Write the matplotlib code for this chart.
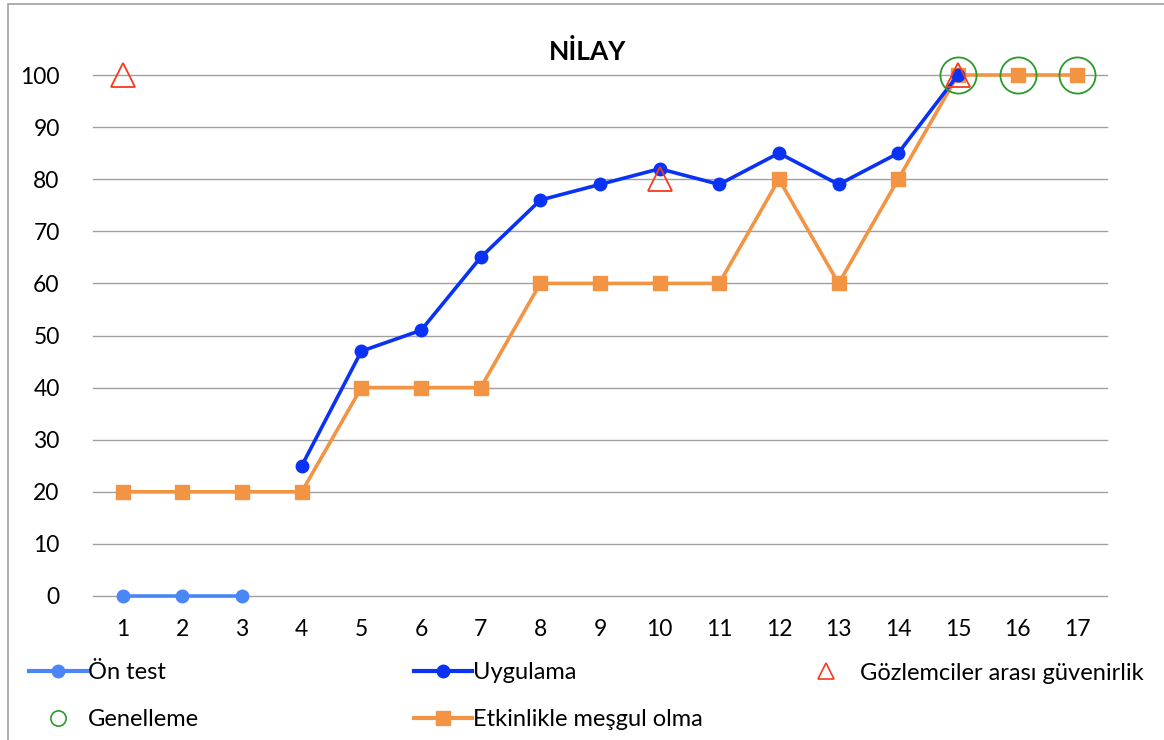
import numpy as np
import matplotlib.pyplot as plt
from matplotlib.lines import Line2D
from matplotlib.patches import Rectangle

plt.rcParams['font.family'] = ['Lato', 'DejaVu Sans']

sessions = list(range(1, 18))

on_test_x = [1, 2, 3]
on_test_y = [0, 0, 0]

uygulama_x = [4, 5, 6, 7, 8, 9, 10, 11, 12, 13, 14, 15]
uygulama_y = [25, 47, 51, 65, 76, 79, 82, 79, 85, 79, 85, 100]

etkinlik_x = sessions
etkinlik_y = [20, 20, 20, 20, 40, 40, 40, 60, 60, 60, 60, 80, 60, 80, 100, 100, 100]

guvenirlik_x = [1, 10, 15]
guvenirlik_y = [100, 80, 100]

genelleme_x = [15, 16, 17]
genelleme_y = [100, 100, 100]

yticks = list(range(0, 101, 10))

c_on = '#4a86f5'
c_uyg = '#0a32f5'
c_etk = '#f39444'
c_red = '#f53a1e'
c_green = '#2a9a2a'

fig = plt.figure(figsize=(11.64, 7.4), dpi=100)
ax = fig.add_axes([93/1164, 144/740, 1014/1164, 521/740])

ax.plot(on_test_x, on_test_y, color=c_on, lw=2.6, marker='o', ms=9, zorder=3, clip_on=False)
ax.plot(uygulama_x, uygulama_y, color=c_uyg, lw=2.6, marker='o', ms=9, zorder=3, clip_on=False)
ax.plot(etkinlik_x, etkinlik_y, color=c_etk, lw=2.6, marker='s', ms=10, zorder=2, clip_on=False)
ax.plot(guvenirlik_x, guvenirlik_y, ls='none', marker='^', ms=17, mfc='none', mec=c_red, mew=1.3,
        zorder=4, clip_on=False)
ax.plot(genelleme_x, genelleme_y, ls='none', marker='o', ms=26, mfc='none', mec=c_green, mew=1.3,
        zorder=4, clip_on=False)

ax.set_xlim(0.5, 17.5)
ax.set_ylim(0, 100)
ax.set_xticks(sessions)
ax.set_yticks(yticks)
ax.tick_params(length=0, labelsize=16.5)
ax.tick_params(axis='x', pad=24)
ax.tick_params(axis='y', pad=24)
for lab in ax.get_xticklabels():
    lab.set_va('center')
ax.grid(axis='y', color='#a0a0a0', lw=1, clip_on=False)
ax.set_axisbelow(True)
for s in ax.spines.values():
    s.set_visible(False)

fig.text(588/1164, 1 - 52/740, 'NİLAY', ha='center', va='center', fontsize=19, fontweight='bold')

# outer frame
fig.patches.append(Rectangle((8/1164, -0.1), 1.2, 1 - 4/740 + 0.1, transform=fig.transFigure,
                             fill=False, ec='#a0a0a0', lw=1.2))

h_on = Line2D([], [], color=c_on, lw=3, marker='o', ms=9)
h_uyg = Line2D([], [], color=c_uyg, lw=3, marker='o', ms=9)
h_etk = Line2D([], [], color=c_etk, lw=3, marker='s', ms=10)
h_red = Line2D([], [], ls='none', marker='^', ms=11, mfc='none', mec=c_red, mew=1.2)
h_green = Line2D([], [], ls='none', marker='o', ms=11, mfc='none', mec=c_green, mew=1.2)

kw = dict(loc='center left', frameon=False, fontsize=17, handlelength=2.45, handletextpad=0.05,
          labelspacing=1.1, borderaxespad=0, borderpad=0)
fig.legend([h_on, h_green], ['Ön test', 'Genelleme'], bbox_to_anchor=(29/1164, 1 - 696/740), **kw)
fig.legend([h_uyg, h_etk], ['Uygulama', 'Etkinlikle meşgul olma'], bbox_to_anchor=(414/1164, 1 - 696/740), **kw)
fig.legend([h_red], ['Gözlemciler arası güvenirlik'], bbox_to_anchor=(797/1164, 1 - 673/740),
           handletextpad=0.2, **{k: v for k, v in kw.items() if k != 'handletextpad'})

fig.savefig('out.png', dpi=100)
